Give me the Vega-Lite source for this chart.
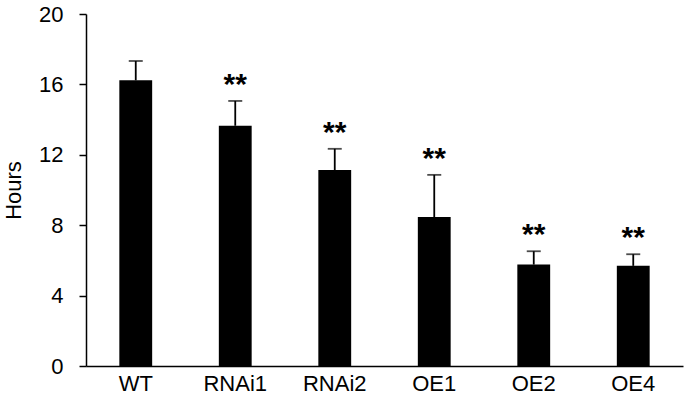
{
  "$schema": "https://vega.github.io/schema/vega-lite/v6.json",
  "autosize": "none",
  "width": 597,
  "height": 352,
  "padding": {"left": 86, "top": 14, "right": 2, "bottom": 43},
  "background": "white",
  "config": {
    "view": {"stroke": null},
    "font": "Liberation Sans",
    "axis": {"labelFont": "Liberation Sans", "titleFont": "Liberation Sans", "labelColor": "black", "titleColor": "black", "domainColor": "black", "tickColor": "black", "grid": false}
  },
  "data": {
    "values": [
      {"group": "WT", "mean": 16.23, "upper": 17.33, "sig": ""},
      {"group": "RNAi1", "mean": 13.65, "upper": 15.06, "sig": "**"},
      {"group": "RNAi2", "mean": 11.13, "upper": 12.34, "sig": "**"},
      {"group": "OE1", "mean": 8.46, "upper": 10.86, "sig": "**"},
      {"group": "OE2", "mean": 5.76, "upper": 6.52, "sig": "**"},
      {"group": "OE4", "mean": 5.69, "upper": 6.35, "sig": "**"}
    ]
  },
  "encoding": {
    "x": {
      "field": "group", "type": "nominal", "sort": null,
      "scale": {"paddingInner": 0.67, "paddingOuter": 0.335},
      "axis": {"title": null, "labelAngle": 0, "labelFontSize": 22, "ticks": false, "labelPadding": 7, "domainWidth": 1.5}
    }
  },
  "layer": [
    {
      "mark": {"type": "rule", "color": "black", "strokeWidth": 1.8},
      "encoding": {
        "y": {"field": "mean", "type": "quantitative"},
        "y2": {"field": "upper"}
      }
    },
    {
      "mark": {"type": "tick", "color": "black", "size": 14, "thickness": 1.8},
      "encoding": {
        "y": {"field": "upper", "type": "quantitative"}
      }
    },
    {
      "mark": {"type": "bar", "color": "black"},
      "encoding": {
        "y": {
          "field": "mean", "type": "quantitative",
          "scale": {"domain": [0, 20], "nice": false},
          "axis": {"title": "Hours", "values": [0, 4, 8, 12, 16, 20], "labelFontSize": 22, "titleFontSize": 22, "titleFontWeight": "normal", "tickSize": 7, "tickWidth": 1.5, "domainWidth": 1.5, "labelPadding": 16, "titleX": -73, "titleY": 176, "titleAlign": "center", "titleBaseline": "middle", "titleAngle": -90}
        }
      }
    },
    {
      "mark": {"type": "text", "fontSize": 30, "fontWeight": "bold", "baseline": "alphabetic", "dy": -7, "color": "black"},
      "encoding": {
        "y": {"field": "upper", "type": "quantitative"},
        "text": {"field": "sig"}
      }
    }
  ]
}
